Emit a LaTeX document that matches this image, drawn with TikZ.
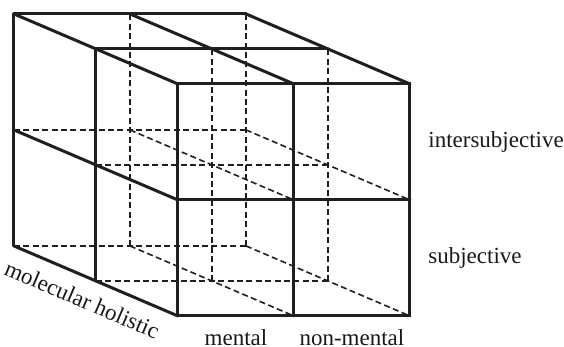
\documentclass[tikz,border=0pt]{standalone}
\usepackage{fontspec}
\setmainfont{Liberation Serif}
\usetikzlibrary{positioning}
\tikzset{
  edge/.style={line width=1.5pt,black!88,line cap=round},
  hidden/.style={line width=0.8pt,black!88,dash pattern=on 3pt off 1.7pt},
  axlbl/.style={font=\fontsize{11.5}{14}\selectfont,inner sep=0pt,black!90},
}

\begin{document}
\begin{tikzpicture}[x=58pt,y=58pt]
  \useasboundingbox (-1.534,-0.267) rectangle (3.328,2.724);
  % grid points: column, row, depth
  \foreach \i in {0,1,2}
    \foreach \j in {0,1,2}
      \foreach \k in {0,1,2}
        \coordinate (p\i\j\k) at ({\i-0.707*\k},{\j+0.302*\k});
  % hidden edges
  \draw[hidden] (p102) -- (p122) (p202) -- (p222)
    (p012) -- (p212) (p002) -- (p202);
  \draw[hidden] (p101) -- (p121) (p201) -- (p221)
    (p011) -- (p211) (p001) -- (p201);
  \draw[hidden] (p112) -- (p110) (p212) -- (p210)
    (p102) -- (p100) (p202) -- (p200);
  % front face
  \draw[edge] (p000) rectangle (p220);
  \draw[edge] (p100) -- (p120) (p010) -- (p210);
  % top face
  \draw[edge] (p022) -- (p020) (p122) -- (p120) (p222) -- (p220);
  \draw[edge] (p021) -- (p221) (p022) -- (p222);
  % left face
  \draw[edge] (p002) -- (p022) (p001) -- (p021);
  \draw[edge] (p012) -- (p010) (p002) -- (p000);
  % labels
  \path (p210) -- node[axlbl,right=9pt] (inter) {intersubjective} (p220);
  \path (p200) -- node[axlbl,right=9pt] (subj) {subjective} (p210);
  \path (p000) -- node[axlbl,below=6.5pt] (ment) {mental} (p100);
  \path (p100) -- node[axlbl,below=6.5pt] (nonment) {non-mental} (p200);
  \path (p002) -- node[axlbl,sloped,pos=0.47,below=7pt] (depth) {molecular holistic} (p000);
\end{tikzpicture}
\end{document}
